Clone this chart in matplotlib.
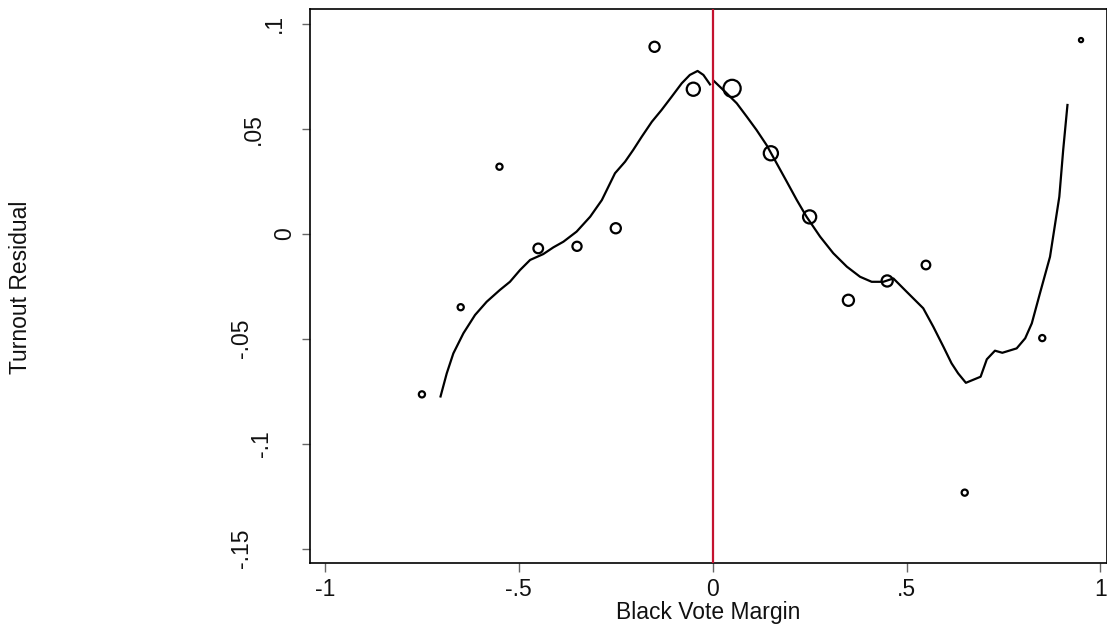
import matplotlib
matplotlib.use("Agg")
import matplotlib.pyplot as plt
import numpy as np

# ---- data ----
bin_x = [-0.75, -0.65, -0.55, -0.45, -0.35, -0.25, -0.15, -0.05, 0.05,
         0.15, 0.25, 0.35, 0.45, 0.55, 0.65, 0.85, 0.95]
bin_y = [-0.0765, -0.035, 0.0319, -0.007, -0.006, 0.0026, 0.089, 0.0688, 0.0692,
         0.0383, 0.008, -0.0317, -0.0225, -0.0149, -0.1233, -0.0497, 0.0922]
bin_weight = [49, 49, 49, 110, 100, 121, 121, 196, 324,
              225, 196, 144, 144, 90, 49, 49, 25]

left_fit_x = [-0.702, -0.686, -0.669, -0.643, -0.613, -0.583, -0.549, -0.523, -0.497,
              -0.471, -0.437, -0.411, -0.385, -0.351, -0.316, -0.286, -0.252, -0.226,
              -0.205, -0.183, -0.157, -0.132, -0.106, -0.080, -0.059, -0.039, -0.024, -0.007]
left_fit_y = [-0.0775, -0.0665, -0.057, -0.0474, -0.0387, -0.0324, -0.0268, -0.0229, -0.0173,
              -0.0125, -0.0097, -0.0065, -0.0038, 0.001, 0.0081, 0.016, 0.0288, 0.0343,
              0.0399, 0.0462, 0.0533, 0.0589, 0.0652, 0.0716, 0.0756, 0.0775, 0.0756, 0.0711]

right_fit_x = [0.002, 0.032, 0.062, 0.088, 0.113, 0.139, 0.165, 0.191, 0.217, 0.242,
               0.277, 0.311, 0.346, 0.38, 0.41, 0.44, 0.466, 0.5, 0.543, 0.569, 0.595,
               0.616, 0.633, 0.653, 0.691, 0.707, 0.728, 0.747, 0.784, 0.806, 0.823,
               0.844, 0.87, 0.894, 0.904, 0.915]
right_fit_y = [0.0729, 0.0676, 0.0621, 0.0557, 0.0494, 0.0422, 0.0335, 0.0248, 0.016, 0.0081,
               -0.0014, -0.0093, -0.0157, -0.0205, -0.0229, -0.0229, -0.0213, -0.0276, -0.0355,
               -0.0443, -0.0538, -0.0617, -0.0665, -0.071, -0.0681, -0.0598, -0.0557, -0.0567,
               -0.0546, -0.0498, -0.0427, -0.0284, -0.011, 0.0176, 0.0399, 0.0613]

x_ticks = [-1, -0.5, 0, 0.5, 1]
x_tick_labels = ["-1", "-.5", "0", ".5", "1"]
y_ticks = [-0.15, -0.1, -0.05, 0, 0.05, 0.1]
y_tick_labels = ["-.15", "-.1", "-.05", "0", ".05", ".1"]

# ---- figure ----
W, H, DPI = 1107, 629, 100
plt.rcParams["font.family"] = ["Liberation Sans", "DejaVu Sans"]
FS = 16.5
fig = plt.figure(figsize=(W / DPI, H / DPI), dpi=DPI)
ax = fig.add_axes([310 / W, 1 - 563 / H, (1106.5 - 310) / W, (563 - 9) / H])

ax.set_xlim(-1.0387, 1.0157)
ax.set_ylim(-0.1568, 0.107)

d = np.sqrt(np.array(bin_weight, dtype=float))
s = (d / (DPI / 72) - 0.6) ** 2
ax.scatter(bin_x, bin_y, s=s, facecolors="none", edgecolors="black",
           linewidths=1.6, zorder=3)

ax.plot(left_fit_x, left_fit_y, color="black", lw=1.6, zorder=2)
ax.plot(right_fit_x, right_fit_y, color="black", lw=1.6, zorder=2)
ax.axvline(0, color="#C4122F", lw=1.6, zorder=4)

for sp in ax.spines.values():
    sp.set_linewidth(1.2)
    sp.set_color("black")

ax.set_xticks(x_ticks)
ax.set_xticklabels(x_tick_labels, fontsize=FS, color="#111111")
ax.tick_params(axis="x", length=6.5, width=1.0, color="#666666", pad=4)
ax.set_yticks(y_ticks)
ax.set_yticklabels([])
ax.tick_params(axis="y", length=5.8, width=1.0, color="#666666")

# rotated y tick labels, offset like Stata (longer labels sit further left)
fig.canvas.draw()
renderer = fig.canvas.get_renderer()
for val, lab in zip(y_ticks, y_tick_labels):
    t = ax.text(0, 0, lab, fontsize=FS)
    w = t.get_window_extent(renderer).width
    t.remove()
    off = 5 + 1.62 * w
    ax.annotate(lab, xy=(0, val), xycoords=("axes fraction", "data"),
                xytext=(-off, 0), textcoords="offset pixels",
                rotation=90, ha="center", va="center", fontsize=FS,
                color="#111111", annotation_clip=False)

ax.set_xlabel("Black Vote Margin", fontsize=FS, labelpad=0.5, color="#111111")
fig.text(21 / W, 1 - 287 / H, "Turnout Residual", rotation=90,
         ha="center", va="center", fontsize=FS, color="#111111")

fig.savefig("out.png", dpi=DPI, facecolor="white")
